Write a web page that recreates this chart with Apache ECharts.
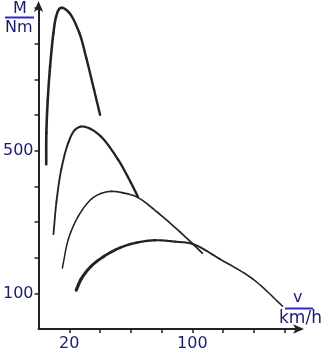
<!DOCTYPE html>
<html>
<head>
<meta charset="utf-8">
<script src="https://cdn.jsdelivr.net/npm/echarts@6/dist/echarts.min.js"></script>
<style>
  html, body { margin: 0; padding: 0; background: #fff; }
  #chart { width: 325px; height: 352px; }
</style>
</head>
<body>
<div id="chart"></div>
<script>
// Torque M (Nm) over vehicle speed v (km/h), one curve per gear
const gear1V = [5.0, 5.1, 6.0, 7.5, 9.7, 11.4, 13.5, 15.5, 20.0, 26.5, 31.0, 36.1, 40.0];
const gear1M = [462, 551, 643, 736, 831, 876, 898, 901, 887, 831, 761, 671, 601];

const gear2V = [9.7, 11.6, 14.8, 19.4, 23.5, 27.7, 33.0, 40.6, 51.6, 60.0, 64.5];
const gear2M = [266, 355, 448, 523, 558, 568, 563, 540, 476, 411, 372];

const gear3V = [15.5, 19.4, 25.8, 34.2, 40.5, 47.1, 55.0, 64.5, 77.4, 92.3, 106.5];
const gear3M = [171, 252, 316, 364, 380, 386, 382, 369, 327, 271, 213];

const gear4V = [24.5, 27.7, 34.2, 42.6, 53.5, 64.5, 76.1, 89.0, 100.6, 118.0, 139.4, 158.7];
const gear4M = [109, 140, 176, 204, 229, 243, 249, 245, 238, 196, 140, 64];

const xTickLabels = ['20', '100'];
const yTickLabels = ['100', '500'];

const ink = '#1c1c6e';
const rule = '#2a2ac8';

// Centripetal Catmull-Rom through pixel points, sampled into short runs
function splineRuns(pts, steps) {
  const n = pts.length;
  const P = i => {
    if (i < 0) return [2 * pts[0][0] - pts[1][0], 2 * pts[0][1] - pts[1][1]];
    if (i >= n) return [2 * pts[n - 1][0] - pts[n - 2][0], 2 * pts[n - 1][1] - pts[n - 2][1]];
    return pts[i];
  };
  const dist = (a, b) => Math.max(1e-6, Math.sqrt(Math.hypot(b[0] - a[0], b[1] - a[1])));
  const runs = [];
  for (let i = 0; i < n - 1; i++) {
    const p0 = P(i - 1), p1 = P(i), p2 = P(i + 1), p3 = P(i + 2);
    const d1 = dist(p0, p1), d2 = dist(p1, p2), d3 = dist(p2, p3);
    const c1 = [0, 1].map(k => (d1 * d1 * p2[k] - d2 * d2 * p0[k] + (2 * d1 * d1 + 3 * d1 * d2 + d2 * d2) * p1[k]) / (3 * d1 * (d1 + d2)));
    const c2 = [0, 1].map(k => (d3 * d3 * p1[k] - d2 * d2 * p3[k] + (2 * d3 * d3 + 3 * d3 * d2 + d2 * d2) * p2[k]) / (3 * d3 * (d3 + d2)));
    const run = [];
    for (let s = 0; s <= steps; s++) {
      const t = s / steps, u = 1 - t;
      run.push([
        u * u * u * p1[0] + 3 * u * u * t * c1[0] + 3 * u * t * t * c2[0] + t * t * t * p2[0],
        u * u * u * p1[1] + 3 * u * u * t * c1[1] + 3 * u * t * t * c2[1] + t * t * t * p2[1]
      ]);
    }
    runs.push(run);
  }
  return runs;
}

function curve(xs, ys, wStart, wEnd) {
  return {
    type: 'custom',
    data: [0],
    clip: false,
    silent: true,
    renderItem: (params, api) => {
      const pts = xs.map((x, i) => api.coord([x, ys[i]]));
      const runs = splineRuns(pts, 12);
      return {
        type: 'group',
        children: runs.map((run, i) => ({
          type: 'polyline',
          shape: { points: run },
          style: {
            stroke: '#222',
            fill: null,
            lineWidth: wStart + (wEnd - wStart) * (i / Math.max(1, runs.length - 1)),
            lineCap: 'round',
            lineJoin: 'round'
          }
        }))
      };
    }
  };
}

const chart = echarts.init(document.getElementById('chart'), null, { renderer: 'canvas' });

chart.setOption({
  animation: false,
  backgroundColor: '#fff',
  grid: { left: 37, right: 25, top: 5, bottom: 22, containLabel: false },
  xAxis: {
    type: 'value',
    min: 0,
    max: 170,
    interval: 20,
    axisLine: { show: true, symbol: ['none', 'arrow'], symbolSize: [7, 11], symbolOffset: [0, 4],
      lineStyle: { color: '#222', width: 2 } },
    axisTick: { show: true, length: 4, inside: false, lineStyle: { color: '#222', width: 1.5 } },
    splitLine: { show: false },
    axisLabel: {
      color: ink, fontFamily: 'DejaVu Sans', fontSize: 16, margin: 7,
      showMinLabel: false, showMaxLabel: false,
      formatter: v => xTickLabels.includes(String(v)) ? String(v) : ''
    }
  },
  yAxis: {
    type: 'value',
    min: 0,
    max: 909,
    interval: 100,
    axisLine: { show: true, symbol: ['none', 'arrow'], symbolSize: [7, 11], symbolOffset: [0, 4],
      lineStyle: { color: '#222', width: 2 } },
    axisTick: { show: true, length: 4, lineStyle: { color: '#222', width: 1.5 } },
    splitLine: { show: false },
    axisLabel: {
      color: ink, fontFamily: 'DejaVu Sans', fontSize: 16, margin: 5,
      showMinLabel: false, showMaxLabel: false,
      formatter: v => yTickLabels.includes(String(v)) ? String(v) : ''
    }
  },
  series: [
    curve(gear1V, gear1M, 2.6, 2.4),
    curve(gear2V, gear2M, 1.8, 2.4),
    curve(gear3V, gear3M, 1.5, 1.7),
    curve(gear4V, gear4M, 3.2, 1.5)
  ],
  graphic: [
    { type: 'text', left: 13, top: 1, style: { text: 'M', fill: ink, font: '16px "DejaVu Sans"' } },
    { type: 'line', shape: { x1: 5, y1: 17.5, x2: 34, y2: 17.5 }, style: { stroke: rule, lineWidth: 2 } },
    { type: 'text', left: 5, top: 20, style: { text: 'Nm', fill: ink, font: '16px "DejaVu Sans"' } },
    { type: 'text', left: 293, top: 290, style: { text: 'v', fill: ink, font: '16px "DejaVu Sans"' } },
    { type: 'line', shape: { x1: 285, y1: 308.5, x2: 313, y2: 308.5 }, style: { stroke: rule, lineWidth: 2 } },
    { type: 'text', left: 279, top: 310, style: { text: 'km/h', fill: ink, font: '17px "DejaVu Sans"' } }
  ]
});
</script>
</body>
</html>
